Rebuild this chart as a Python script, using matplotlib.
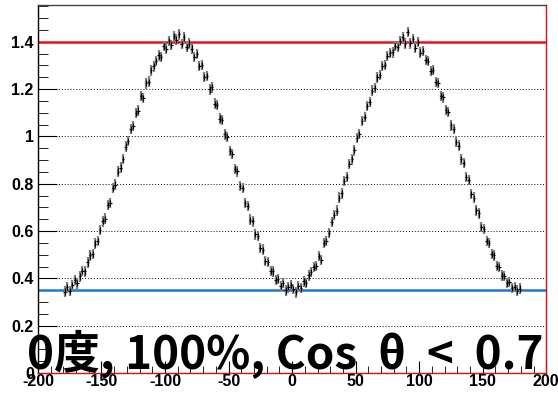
import numpy as np
import matplotlib
matplotlib.use("Agg")
import matplotlib.pyplot as plt
from matplotlib.ticker import MultipleLocator

# bin centres, 2 degree bins from -180 to 180
angle = np.arange(-179, 180, 2)

# yield ratio per bin
ratio_a = [0.344, 0.362, 0.347, 0.371, 0.392, 0.379, 0.408, 0.431, 0.429, 0.467,
           0.497, 0.503, 0.547, 0.559, 0.604, 0.641, 0.652, 0.709, 0.718, 0.781,
           0.796, 0.851, 0.868, 0.904, 0.957, 0.981, 1.032, 1.044, 1.098, 1.109,
           1.171, 1.162, 1.224, 1.231, 1.279, 1.296, 1.318, 1.342, 1.335, 1.381,
           1.369, 1.402, 1.387, 1.425, 1.409]
ratio_b = [1.431, 1.389, 1.418, 1.377, 1.392, 1.371, 1.336, 1.348, 1.297, 1.302,
           1.252, 1.256, 1.198, 1.207, 1.138, 1.133, 1.075, 1.069, 1.008, 0.997,
           0.937, 0.925, 0.861, 0.852, 0.789, 0.781, 0.718, 0.706, 0.648, 0.641,
           0.586, 0.579, 0.527, 0.521, 0.474, 0.469, 0.431, 0.429, 0.392, 0.397,
           0.368, 0.381, 0.349, 0.362, 0.371]
ratio_c = [0.356, 0.341, 0.368, 0.359, 0.387, 0.381, 0.412, 0.427, 0.447, 0.452,
           0.494, 0.478, 0.549, 0.557, 0.591, 0.637, 0.668, 0.686, 0.741, 0.759,
           0.812, 0.829, 0.884, 0.903, 0.941, 0.993, 1.011, 1.064, 1.081, 1.128,
           1.146, 1.193, 1.204, 1.249, 1.258, 1.298, 1.302, 1.339, 1.352, 1.355,
           1.381, 1.377, 1.403, 1.418, 1.392]
ratio_d = [1.441, 1.393, 1.412, 1.375, 1.399, 1.354, 1.361, 1.322, 1.318, 1.277,
           1.281, 1.229, 1.226, 1.171, 1.165, 1.112, 1.103, 1.046, 1.031, 0.976,
           0.961, 0.903, 0.887, 0.829, 0.815, 0.757, 0.741, 0.687, 0.674, 0.617,
           0.609, 0.557, 0.549, 0.503, 0.497, 0.452, 0.447, 0.412, 0.409, 0.381,
           0.384, 0.358, 0.364, 0.348, 0.357]
ratio = np.array(ratio_a + ratio_b + ratio_c + ratio_d)
ratio_err = 0.022
bin_half = 1.0

max_level = 1.40
min_level = 0.35

x_ticks = [-200, -150, -100, -50, 0, 50, 100, 150, 200]
x_labels = ["-200", "-150", "-100", "-50", "0", "50", "100", "150", "200"]
y_ticks = [0, 0.2, 0.4, 0.6, 0.8, 1.0, 1.2, 1.4]
y_labels = ["0", "0.2", "0.4", "0.6", "0.8", "1", "1.2", "1.4"]

label = "0度, 100%, Cos  θ  <  0.7"

fig = plt.figure(figsize=(5.58, 3.94), dpi=100)
ax = fig.add_axes([0.068, 0.0533, 0.911, 0.934])

ax.set_xlim(-200, 200)
ax.set_ylim(0, 1.555)

# horizontal grid at the major y ticks
for yv in y_ticks[1:]:
    ax.axhline(yv, color="black", lw=0.7, ls=(0, (1, 2)), zorder=1)

ax.axhline(max_level, color="#e8141b", lw=1.8, zorder=2)
ax.axhline(min_level, color="#1f78c8", lw=1.8, zorder=2)

ax.errorbar(angle, ratio, yerr=ratio_err, fmt="none", ecolor="#808080",
            elinewidth=1.6, zorder=3)
ax.errorbar(angle, ratio, yerr=ratio_err * 0.6, xerr=bin_half, fmt="none",
            ecolor="black", elinewidth=0.8, zorder=4)

ax.set_xticks(x_ticks)
ax.set_xticklabels(x_labels)
ax.set_yticks(y_ticks)
ax.set_yticklabels(y_labels)
ax.xaxis.set_minor_locator(MultipleLocator(10))
ax.yaxis.set_minor_locator(MultipleLocator(0.05))
ax.tick_params(axis="both", which="both", direction="in", color="black",
               labelsize=11.5, top=False, right=False)
ax.tick_params(axis="x", which="major", length=9, pad=1)
ax.tick_params(axis="x", which="minor", length=5)
ax.tick_params(axis="y", which="major", length=14, pad=3)
ax.tick_params(axis="y", which="minor", length=7)
for lab in ax.get_xticklabels() + ax.get_yticklabels():
    lab.set_fontweight("bold")
    lab.set_family("Liberation Sans")

ax.spines["left"].set_color("black")
ax.spines["top"].set_color("#444444")
ax.spines["right"].set_color("#d0141b")
ax.spines["bottom"].set_color("#d0141b")
for s in ax.spines.values():
    s.set_linewidth(1.0)

fig.text(0.048, 0.066, label, fontsize=33, fontweight="bold",
         family=["Noto Sans CJK JP", "DejaVu Sans"], color="black",
         ha="left", va="baseline", zorder=10)

fig.savefig("out.png", dpi=100)
